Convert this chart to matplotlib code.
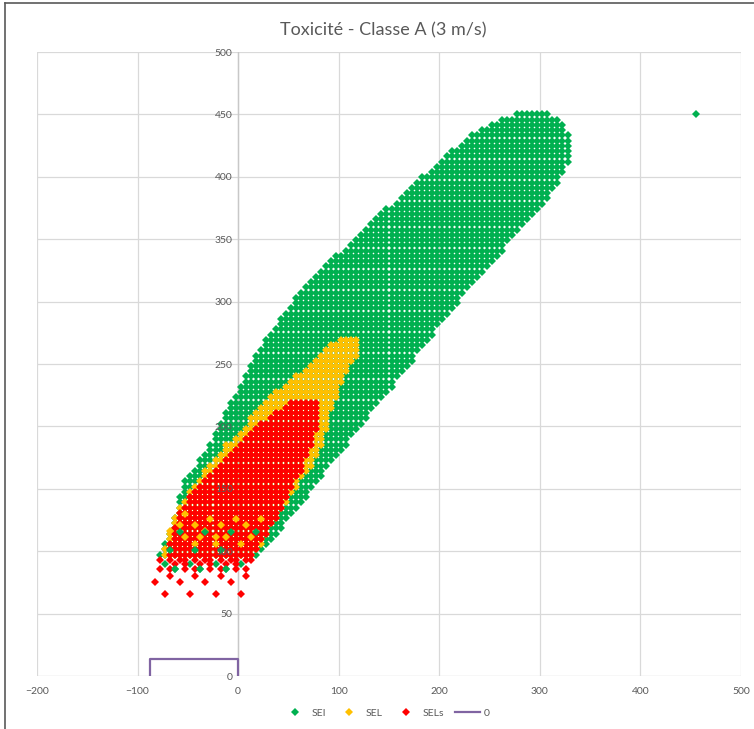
import numpy as np
import matplotlib
matplotlib.use("Agg")
import matplotlib.pyplot as plt
from matplotlib.path import Path
from matplotlib.lines import Line2D

# Calculation grid (m)
grid_dx = 5.0
grid_dy = 4.2
grid_x0 = 2.5
grid_ytop = 450.0
grid_ybottom = 96.0

# Threshold zone envelopes (x, y in m)
sei_env_x = [-80, -74, -68, -62, -59, -55, -44, -33, -22, -13, 4, 12, 27, 62, 130, 201, 226, 242, 262, 279,
             306, 318, 323, 327, 330, 330, 327, 322, 316, 309, 220, 122, 80, 58, 34, 22, 15, -80]
sei_env_y = [96, 106, 117, 131, 141, 157, 167, 178, 195, 211, 237, 251, 270, 309, 362, 413, 430, 438, 446, 452,
             452, 447, 443, 437, 428, 415, 407, 399, 391, 384, 301, 200, 157, 133, 109, 97, 92, 92]

sel_env_x = [-74, -71, -66, -58, -54, -40, -30, -20, -12, -3, 9, 19, 32, 49, 62, 72, 81, 94, 106, 118,
             121, 121, 114, 108, 103, 98, 91, 88, 83, 75, 66, 57, 48, 37, 27, 20, 15, -74]
sel_env_y = [100, 109, 121, 135, 141, 157, 168, 178, 186, 192, 203, 213, 224, 235, 243, 251, 259, 267, 273, 273,
             268, 258, 251, 243, 235, 224, 211, 198, 184, 171, 160, 150, 138, 125, 112, 102, 96, 96]

sels_env_x = [-72, -70, -63, -60, -50, -42, -35, -22, -9, -3, 5, 22, 35, 52, 81,
              81, 79, 77, 73, 67, 62, 57, 52, 47, 42, 35, 30, 24, 19, 16]
sels_env_y = [96, 103, 117, 130, 141, 149, 157, 167, 176, 184, 192, 203, 211, 219, 219,
              211, 202, 192, 184, 172, 163, 157, 149, 141, 133, 122, 115, 108, 101, 96]

# Isolated grid points
sei_extra_x = [455, -72.5, -47.5, -22.5, 2.5, -62.5, -37.5, -12.5,
               -57.5, -32.5, -7.5, 17.5, -67.5, -42.5, -17.5]
sei_extra_y = [450, 89.5, 89.5, 89.5, 89.5, 85.5, 85.5, 85.5,
               115, 115, 115, 115, 101, 101, 101]

sel_extra_x = [-52.5, -27.5, -2.5, 22.5, -57.5, -42.5, -17.5, 7.5, -67.5, -32.5,
               -52.5, -37.5, -22.5, -12.5, 12.5, -42.5, -22.5, 2.5]
sel_extra_y = [130, 126, 126, 126, 121, 121, 121, 121, 116, 116,
               111, 111, 111, 111, 111, 106, 106, 106]

sels_extra_x = [-77.5, -67.5, -57.5, -52.5, -42.5, -32.5, -27.5, -17.5, -7.5, -2.5, 7.5, 12.5,
                -62.5, -52.5, -37.5, -27.5, -12.5, -2.5,
                -77.5, -67.5, -52.5, -42.5, -27.5, -17.5, -2.5, 7.5,
                -67.5, -42.5, -17.5, 7.5,
                -82.5, -57.5, -32.5, -7.5,
                -72.5, -47.5, -22.5, 2.5]
sels_extra_y = [93] * 12 + [89.5] * 6 + [85.5] * 8 + [80] * 4 + [75.5] * 4 + [65.5] * 4

# Site boundary
site_x = [-88, -88, 0, 0]
site_y = [0, 13.5, 13.5, 0]

COL_SEI = "#00B050"
COL_SEL = "#FFC000"
COL_SELS = "#FF0000"
COL_SITE = "#8064A2"
TXT = "#595959"
GRID = "#D9D9D9"
FONT = "Lato"


def grid_points(env_x, env_y):
    xs = grid_x0 + grid_dx * np.arange(-30, 70)
    ys = grid_ytop - grid_dy * np.arange(0, 200)
    ys = ys[ys >= grid_ybottom]
    gx, gy = np.meshgrid(xs, ys)
    pts = np.column_stack([gx.ravel(), gy.ravel()])
    inside = Path(np.column_stack([env_x, env_y])).contains_points(pts)
    return pts[inside, 0], pts[inside, 1]


fig = plt.figure(figsize=(7.54, 7.29), dpi=100)
ax = fig.add_axes([37 / 754, 1 - 676 / 729, 704 / 754, 624 / 729])
ax.set_xlim(-200, 500)
ax.set_ylim(0, 500)

for xv in range(-200, 501, 100):
    ax.axvline(xv, color=GRID, lw=0.9, zorder=0.3)
for yv in range(50, 501, 50):
    ax.axhline(yv, color=GRID, lw=0.9, zorder=0.3)
ax.axhline(0, color=GRID, lw=1.0, zorder=0.4)
ax.axvline(0, color="#C8C8C8", lw=1.0, zorder=0.4)

msize = 4.3
kw = dict(linestyle="none", marker="D", markersize=msize, markeredgewidth=0)

sx, sy = grid_points(sei_env_x, sei_env_y)
ax.plot(sx, sy, color=COL_SEI, zorder=1.0, **kw)
ax.plot(sei_extra_x, sei_extra_y, color=COL_SEI, zorder=1.0, **kw)

lx, ly = grid_points(sel_env_x, sel_env_y)
ax.plot(lx, ly, color=COL_SEL, zorder=1.1, **kw)

rx, ry = grid_points(sels_env_x, sels_env_y)
ax.plot(rx, ry, color=COL_SELS, zorder=1.2, **kw)
ax.plot(sels_extra_x, sels_extra_y, color=COL_SELS, zorder=1.2, **kw)

# speckles of lower classes inside the near field
ax.plot(sel_extra_x, sel_extra_y, color=COL_SEL, zorder=1.3, **kw)
ax.plot(sei_extra_x[5:], sei_extra_y[5:], color=COL_SEI, zorder=1.3, **kw)

ax.plot(site_x, site_y, color=COL_SITE, lw=1.6, zorder=3)

for s in ax.spines.values():
    s.set_visible(False)
ax.spines["left"].set_position(("data", 0))
ax.set_xticks(range(-200, 501, 100))
ax.set_yticks(range(0, 501, 50))
ax.tick_params(axis="both", length=0, colors=TXT, labelsize=7.5)
ax.tick_params(axis="x", pad=8)
ax.tick_params(axis="y", pad=4)
for lab in ax.get_xticklabels() + ax.get_yticklabels():
    lab.set_fontfamily(FONT)
ax.yaxis.set_zorder(1.5)

fig.text(383 / 754, 1 - 30 / 729, "Toxicité - Classe A (3 m/s)", ha="center", va="center",
         fontsize=13, color=TXT, fontfamily=FONT)

handles = [
    Line2D([], [], color=COL_SEI, marker="D", linestyle="none", markersize=msize, markeredgewidth=0),
    Line2D([], [], color=COL_SEL, marker="D", linestyle="none", markersize=msize, markeredgewidth=0),
    Line2D([], [], color=COL_SELS, marker="D", linestyle="none", markersize=msize, markeredgewidth=0),
    Line2D([], [], color=COL_SITE, lw=1.6),
]
leg = fig.legend(handles, ["SEI", "SEL", "SELs", "0"], loc="center", ncol=4,
                 bbox_to_anchor=(386 / 754, 1 - 713 / 729), frameon=False,
                 prop={"family": FONT, "size": 7.5}, handlelength=2.4, handletextpad=0.35,
                 columnspacing=1.05, borderpad=0)
for t in leg.get_texts():
    t.set_color(TXT)

# chart frame
fig.add_artist(Line2D([5 / 754, 5 / 754], [0, 1 - 3 / 729], color="#595959", lw=1.2,
                      transform=fig.transFigure))
fig.add_artist(Line2D([5 / 754, 1], [1 - 3 / 729, 1 - 3 / 729], color="#595959", lw=1.2,
                      transform=fig.transFigure))

fig.savefig("out.png", dpi=100)
